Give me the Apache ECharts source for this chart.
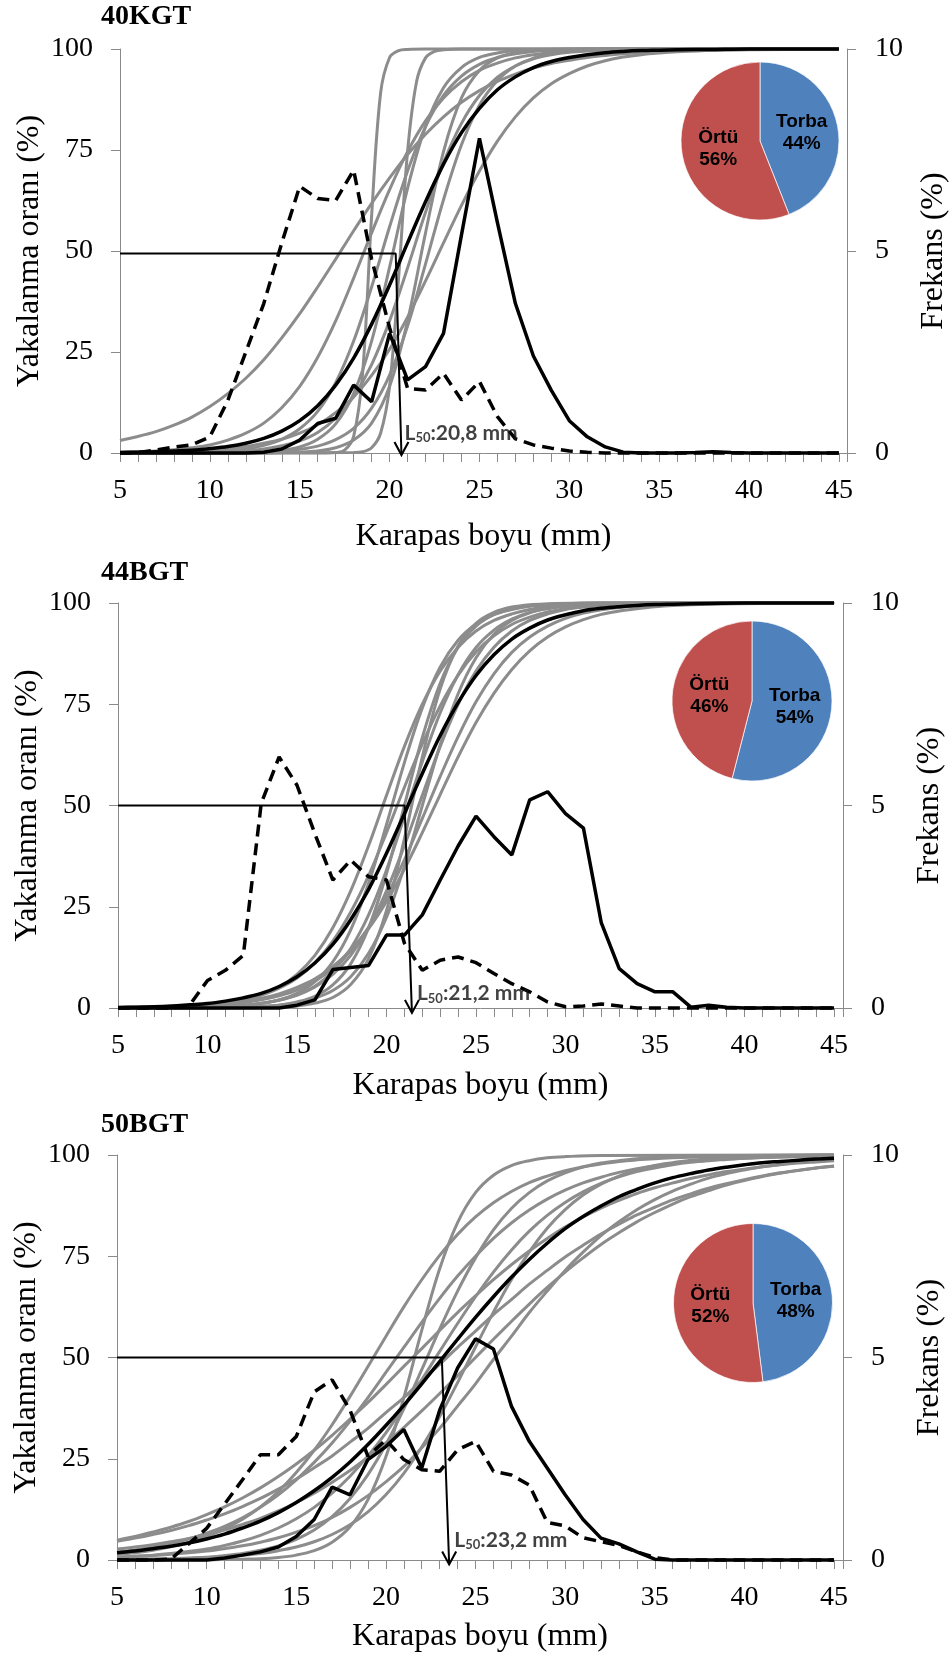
<!DOCTYPE html>
<html lang="tr">
<head>
<meta charset="UTF-8">
<script src="https://cdn.jsdelivr.net/npm/echarts@6/dist/echarts.min.js"></script>
<title>Seçicilik eğrileri</title>
</head>
<body style="margin:0; background:#fff;">
<div id="container" style="width:952px; height:1660px;"></div>
<script>
// ---- data ----
const panelNames = ['40KGT', '44BGT', '50BGT'];
const sizes = [5,6,7,8,9,10,11,12,13,14,15,16,17,18,19,20,21,22,23,24,25,26,27,28,29,30,31,32,33,34,35,36,37,38,39,40,41,42,43,44,45];

// mean selection curve (black) per panel, [carapace length, retention %]
const mean40 = [[5,0.1],[6,0.2],[7,0.3],[8,0.5],[9,0.7],[10,1.1],[11,1.6],[12,2.4],[13,3.6],[14,5.4],[15,8.0],[16,11.7],[17,16.8],[18,23.5],[19,31.9],[20,41.6],[21,52.0],[22,62.2],[23,71.5],[24,79.3],[25,85.3],[26,89.9],[27,93.1],[28,95.4],[29,96.9],[30,97.9],[31,98.6],[32,99.1],[33,99.4],[34,99.6],[35,99.7],[36,99.8],[38,99.9],[40,100],[45,100]];
const mean44 = [[5,0.15],[6,0.2],[7,0.3],[8,0.5],[9,0.8],[10,1.1],[11,1.7],[12,2.5],[13,3.6],[14,5.3],[15,7.7],[16,11.1],[17,15.7],[18,21.8],[19,29.3],[20,38.2],[21,48.0],[22,57.9],[23,67.3],[24,75.4],[25,82.1],[26,87.2],[27,91.1],[28,93.8],[29,95.8],[30,97.1],[31,98.1],[32,98.7],[33,99.1],[34,99.4],[35,99.6],[36,99.7],[38,99.9],[40,100],[45,100]];
const mean50 = [[5,1.8],[6,2.2],[7,2.8],[8,3.4],[9,4.2],[10,5.2],[11,6.4],[12,7.9],[13,9.6],[14,11.7],[15,14.2],[16,17.1],[17,20.4],[18,24.2],[19,28.5],[20,33.2],[21,38.2],[22,43.5],[23,49.0],[24,54.5],[25,59.9],[26,65.0],[27,69.8],[28,74.2],[29,78.2],[30,81.8],[31,84.8],[32,87.4],[33,89.7],[34,91.5],[35,93.1],[36,94.4],[37,95.4],[38,96.3],[39,97.0],[40,97.6],[41,98.1],[42,98.4],[43,98.7],[44,99.0],[45,99.2]];

// individual haul curves (grey)
const gray40 = [
  [[5,3.1],[6,4.1],[7,5.3],[8,6.9],[9,8.9],[10,11.5],[11,14.7],[12,18.5],[13,23.1],[14,28.5],[15,34.5],[16,41.1],[17,48.0],[18,55.0],[19,61.8],[20,68.1],[21,73.9],[22,78.9],[23,83.2],[24,86.8],[25,89.7],[26,92.0],[27,93.8],[28,95.3],[29,96.4],[30,97.2],[31,97.9],[32,98.4],[33,98.8],[34,99.1],[35,99.3],[36,99.5],[38,99.7],[40,99.8],[45,100]],
  [[5,0.2],[6,0.3],[7,0.5],[8,0.8],[9,1.3],[10,2.0],[11,3.2],[12,4.9],[13,7.4],[14,11.2],[15,16.5],[16,23.7],[17,32.7],[18,43.3],[19,54.5],[20,65.2],[21,74.6],[22,82.2],[23,87.9],[24,91.9],[25,94.7],[26,96.5],[27,97.8],[28,98.6],[29,99.1],[30,99.4],[32,99.8],[35,100],[45,100]],
  [[5,0],[16.5,0],[17,0.1],[17.5,0.7],[18,4.1],[18.5,19.8],[19,58.7],[19.5,89.1],[20,97.9],[20.5,99.6],[21,99.9],[22,100],[45,100]],
  [[5,0],[8,0.1],[9,0.2],[10,0.3],[11,0.6],[12,1.0],[13,1.9],[14,3.4],[15,6.0],[16,10.3],[17,17.4],[18,27.7],[19,41.1],[20,56.0],[21,69.8],[22,80.8],[23,88.5],[24,93.3],[25,96.2],[26,97.9],[27,98.8],[28,99.4],[29,99.6],[30,99.8],[32,100],[45,100]],
  [[5,0],[10,0],[11,0.1],[12,0.1],[13,0.3],[14,0.7],[15,1.5],[16,3.4],[17,7.2],[18,14.7],[19,27.7],[20,46.0],[21,65.5],[22,80.8],[23,90.4],[24,95.4],[25,97.9],[26,99.0],[27,99.6],[28,99.8],[30,100],[45,100]],
  [[5,0],[18,0.1],[18.5,0.3],[19,1.3],[19.5,4.9],[20,16.5],[20.5,43.3],[21,74.6],[21.5,91.9],[22,97.8],[22.5,99.4],[23,99.8],[24,100],[45,100]],
  [[5,0],[9,0.1],[10,0.2],[11,0.3],[12,0.6],[13,1.0],[14,1.8],[15,3.0],[16,5.1],[17,8.6],[18,14.0],[19,21.9],[20,32.7],[21,45.8],[22,59.6],[23,71.9],[24,81.6],[25,88.5],[26,93.0],[27,95.8],[28,97.6],[29,98.6],[30,99.2],[31,99.5],[32,99.7],[34,99.9],[45,100]],
  [[5,0],[13,0],[14,0.1],[15,0.2],[16,0.5],[17,1.3],[18,3.2],[19,7.4],[20,16.5],[21,32.7],[22,54.5],[23,74.6],[24,87.9],[25,94.7],[26,97.8],[27,99.1],[28,99.6],[29,99.8],[31,100],[45,100]],
  [[5,0],[11,0.1],[12,0.1],[13,0.3],[14,0.5],[15,0.9],[16,1.7],[17,3.3],[18,6.1],[19,11.1],[20,19.3],[21,31.4],[22,46.8],[23,62.7],[24,76.3],[25,86.1],[26,92.2],[27,95.8],[28,97.7],[29,98.8],[30,99.4],[31,99.7],[33,99.9],[45,100]],
  [[5,0.1],[6,0.2],[7,0.25],[8,0.4],[9,0.5],[10,0.8],[11,1.1],[12,1.6],[13,2.4],[14,3.4],[15,4.9],[16,7.0],[17,10.0],[18,13.9],[19,19.2],[20,25.7],[21,33.6],[22,42.6],[23,52.0],[24,61.3],[25,69.8],[26,77.2],[27,83.2],[28,87.9],[29,91.4],[30,93.9],[31,95.8],[32,97.1],[33,98.0],[34,98.6],[35,99.0],[36,99.3],[38,99.7],[40,99.9],[45,100]]
];
const gray44 = [
  [[5,0.1],[8,0.3],[9,0.4],[10,0.7],[11,1.2],[12,2.0],[13,3.2],[14,5.2],[15,8.3],[16,13.0],[17,19.8],[18,28.9],[19,40.1],[20,52.5],[21,64.6],[22,75.0],[23,83.2],[24,89.1],[25,93.1],[26,95.7],[27,97.3],[28,98.4],[29,99.0],[30,99.4],[32,99.8],[35,100],[45,100]],
  [[5,0],[8,0.05],[9,0.1],[10,0.2],[11,0.3],[12,0.6],[13,1.1],[14,2.0],[15,3.6],[16,6.5],[17,11.4],[18,19.3],[19,30.8],[20,45.3],[21,60.6],[22,74.1],[23,84.2],[24,90.8],[25,94.8],[26,97.2],[27,98.4],[28,99.2],[29,99.5],[30,99.8],[32,100],[45,100]],
  [[5,0.1],[7,0.2],[8,0.3],[9,0.5],[10,0.8],[11,1.3],[12,2.0],[13,3.2],[14,4.9],[15,7.4],[16,11.2],[17,16.5],[18,23.7],[19,32.7],[20,43.3],[21,54.5],[22,65.2],[23,74.6],[24,82.2],[25,87.9],[26,91.9],[27,94.7],[28,96.5],[29,97.8],[30,98.6],[31,99.1],[32,99.4],[34,99.8],[36,100],[45,100]],
  [[5,0],[10,0.05],[11,0.1],[12,0.2],[13,0.4],[14,0.7],[15,1.5],[16,2.9],[17,5.7],[18,10.9],[19,19.8],[20,33.2],[21,50.0],[22,66.8],[23,80.2],[24,89.1],[25,94.3],[26,97.1],[27,98.5],[28,99.3],[29,99.6],[30,99.8],[32,100],[45,100]],
  [[5,0],[12,0.05],[13,0.1],[14,0.2],[15,0.5],[16,1.2],[17,2.6],[18,5.8],[19,12.2],[20,24.1],[21,41.8],[22,62.0],[23,78.8],[24,89.4],[25,95.0],[26,97.7],[27,99.0],[28,99.6],[29,99.8],[31,100],[45,100]],
  [[5,0],[8,0.1],[9,0.1],[10,0.2],[11,0.4],[12,0.6],[13,1.1],[14,1.9],[15,3.2],[16,5.4],[17,9.0],[18,14.7],[19,23.0],[20,34.1],[21,47.3],[22,60.8],[23,72.9],[24,82.3],[25,89.0],[26,93.3],[27,96.0],[28,97.7],[29,98.6],[30,99.2],[31,99.5],[33,99.8],[45,100]],
  [[5,0],[8,0.1],[9,0.2],[10,0.3],[11,0.4],[12,0.7],[13,1.2],[14,2.0],[15,3.2],[16,5.2],[17,8.3],[18,13.0],[19,19.8],[20,28.9],[21,40.1],[22,52.5],[23,64.6],[24,75.0],[25,83.2],[26,89.1],[27,93.1],[28,95.7],[29,97.3],[30,98.4],[31,99.0],[32,99.4],[34,99.8],[37,100],[45,100]],
  [[5,0.1],[7,0.2],[8,0.2],[9,0.4],[10,0.6],[11,0.9],[12,1.3],[13,2.0],[14,3.0],[15,4.4],[16,6.6],[17,9.7],[18,14.1],[19,19.9],[20,27.5],[21,36.6],[22,46.8],[23,57.2],[24,67.0],[25,75.6],[26,82.5],[27,87.8],[28,91.6],[29,94.3],[30,96.2],[31,97.5],[32,98.3],[33,98.9],[34,99.3],[35,99.5],[37,99.8],[40,100],[45,100]],
  [[5,0.1],[6,0.2],[7,0.3],[8,0.4],[9,0.5],[10,0.8],[11,1.2],[12,1.7],[13,2.4],[14,3.5],[15,5.1],[16,7.2],[17,10.2],[18,14.3],[19,19.6],[20,26.3],[21,34.3],[22,43.3],[23,52.7],[24,62.0],[25,70.5],[26,77.7],[27,83.6],[28,88.2],[29,91.6],[30,94.1],[31,95.9],[32,97.2],[33,98.0],[34,98.6],[35,99.1],[36,99.4],[38,99.7],[41,99.9],[45,100]],
  [[5,0],[10,0.1],[11,0.1],[12,0.2],[13,0.4],[14,0.7],[15,1.3],[16,2.4],[17,4.3],[18,7.7],[19,13.5],[20,22.4],[21,35.0],[22,50.0],[23,65.0],[24,77.6],[25,86.5],[26,92.3],[27,95.7],[28,97.6],[29,98.7],[30,99.3],[31,99.6],[33,99.9],[45,100]]
];
const gray50 = [
  [[5,1.4],[6,1.8],[7,2.4],[8,3.3],[9,4.4],[10,5.8],[11,7.7],[12,10.1],[13,13.1],[14,16.9],[15,21.6],[16,27.1],[17,33.4],[18,40.4],[19,47.8],[20,55.2],[21,62.5],[22,69.2],[23,75.2],[24,80.4],[25,84.7],[26,88.2],[27,91.0],[28,93.2],[29,94.8],[30,96.1],[31,97.1],[32,97.8],[33,98.4],[34,98.8],[35,99.1],[36,99.3],[38,99.6],[40,99.8],[45,100]],
  [[5,2.0],[6,2.5],[7,3.2],[8,4.1],[9,5.2],[10,6.6],[11,8.3],[12,10.4],[13,13.0],[14,16.1],[15,19.8],[16,24.1],[17,28.9],[18,34.3],[19,40.1],[20,46.3],[21,52.5],[22,58.7],[23,64.6],[24,70.1],[25,75.0],[26,79.4],[27,83.2],[28,86.4],[29,89.1],[30,91.3],[31,93.1],[32,94.5],[33,95.7],[34,96.6],[35,97.3],[36,97.9],[37,98.4],[38,98.7],[39,99.0],[40,99.2],[42,99.5],[45,99.8]],
  [[5,0],[10,0.04],[11,0.1],[12,0.2],[13,0.3],[14,0.6],[15,1.2],[16,2.3],[17,4.4],[18,8.2],[19,14.9],[20,25.5],[21,40.1],[22,56.7],[23,71.9],[24,83.3],[25,90.7],[26,95.0],[27,97.4],[28,98.6],[29,99.3],[30,99.6],[32,99.9],[45,100]],
  [[5,4.9],[6,5.8],[7,6.9],[8,8.1],[9,9.5],[10,11.2],[11,13.1],[12,15.3],[13,17.8],[14,20.6],[15,23.7],[16,27.1],[17,30.8],[18,34.8],[19,38.9],[20,43.3],[21,47.8],[22,52.2],[23,56.7],[24,61.1],[25,65.2],[26,69.2],[27,72.9],[28,76.3],[29,79.4],[30,82.2],[31,84.7],[32,86.9],[33,88.8],[34,90.5],[35,91.9],[36,93.1],[37,94.2],[38,95.1],[39,95.9],[40,96.5],[41,97.1],[42,97.6],[43,98.0],[44,98.3],[45,98.6]],
  [[5,0.1],[8,0.3],[9,0.5],[10,0.7],[11,1.1],[12,1.6],[13,2.4],[14,3.5],[15,5.1],[16,7.4],[17,10.7],[18,15.2],[19,21.1],[20,28.5],[21,37.3],[22,47.0],[23,57.0],[24,66.4],[25,74.6],[26,81.5],[27,86.8],[28,90.7],[29,93.6],[30,95.6],[31,97.0],[32,98.0],[33,98.6],[34,99.1],[35,99.4],[37,99.7],[40,99.9],[45,100]],
  [[5,4.6],[6,5.4],[7,6.3],[8,7.3],[9,8.5],[10,9.9],[11,11.4],[12,13.2],[13,15.2],[14,17.5],[15,20.0],[16,22.8],[17,25.7],[18,29.1],[19,32.5],[20,36.4],[21,40.1],[22,44.3],[23,48.3],[24,52.5],[25,56.5],[26,60.6],[27,64.3],[28,68.1],[29,71.5],[30,74.8],[31,77.7],[32,80.5],[33,82.9],[34,85.2],[35,87.1],[36,88.9],[37,90.4],[38,91.8],[39,92.9],[40,93.9],[41,94.8],[42,95.6],[43,96.2],[44,96.8],[45,97.2]],
  [[5,0.1],[8,0.3],[9,0.4],[10,0.6],[11,0.8],[12,1.2],[13,1.6],[14,2.3],[15,3.2],[16,4.5],[17,6.3],[18,8.7],[19,11.9],[20,16.1],[21,21.4],[22,27.9],[23,35.4],[24,43.8],[25,52.6],[26,61.2],[27,69.2],[28,76.1],[29,81.9],[30,86.5],[31,90.1],[32,92.8],[33,94.8],[34,96.3],[35,97.4],[36,98.1],[37,98.7],[38,99.1],[40,99.5],[42,99.8],[45,100]],
  [[5,2.7],[6,3.2],[7,3.8],[8,4.5],[9,5.3],[10,6.3],[11,7.4],[12,8.8],[13,10.3],[14,12.1],[15,14.2],[16,16.5],[17,19.2],[18,22.1],[19,25.4],[20,28.9],[21,32.7],[22,36.8],[23,41.1],[24,45.5],[25,50.0],[26,54.5],[27,58.9],[28,63.2],[29,67.3],[30,71.1],[31,74.6],[32,77.9],[33,80.8],[34,83.5],[35,85.8],[36,87.9],[37,89.7],[38,91.2],[39,92.6],[40,93.7],[41,94.7],[42,95.5],[43,96.2],[44,96.8],[45,97.3]],
  [[5,0.7],[6,0.9],[7,1.1],[8,1.4],[9,1.8],[10,2.2],[11,2.8],[12,3.5],[13,4.4],[14,5.5],[15,6.9],[16,8.5],[17,10.5],[18,13.0],[19,15.9],[20,19.3],[21,23.1],[22,27.7],[23,32.5],[24,38.0],[25,43.5],[26,49.5],[27,55.2],[28,61.1],[29,66.4],[30,71.5],[31,76.0],[32,80.1],[33,83.5],[34,86.5],[35,89.0],[36,91.1],[37,92.8],[38,94.3],[39,95.4],[40,96.3],[41,97.1],[42,97.7],[43,98.2],[44,98.5],[45,98.8]],
  [[5,0.7],[6,0.9],[7,1.2],[8,1.6],[9,2.1],[10,2.7],[11,3.6],[12,4.7],[13,6.1],[14,7.9],[15,10.2],[16,13.0],[17,16.5],[18,20.7],[19,25.7],[20,31.4],[21,37.8],[22,44.5],[23,51.5],[24,58.4],[25,65.0],[26,71.1],[27,76.5],[28,81.2],[29,85.1],[30,88.3],[31,90.9],[32,93.0],[33,94.6],[34,95.9],[35,96.8],[36,97.6],[37,98.2],[38,98.6],[39,98.9],[40,99.2],[42,99.5],[45,99.8]]
];

// length frequencies (%), one value per size class 5..45 mm
const torba40 = [0,0,0,0,0,0,0,0,0.02,0.1,0.32,0.73,0.86,1.68,1.27,2.96,1.81,2.14,2.96,5.4,7.79,5.7,3.7,2.4,1.55,0.8,0.4,0.15,0.02,0,0,0,0.01,0.03,0.01,0,0,0,0,0,0];
const ortu40  = [0,0.01,0.07,0.15,0.2,0.4,1.3,2.5,3.7,5.2,6.6,6.3,6.25,7.0,4.8,3.1,1.6,1.56,1.97,1.31,1.77,0.9,0.35,0.2,0.12,0.05,0.02,0,0,0,0,0,0,0,0,0,0,0,0,0,0];
const torba44 = [0,0,0,0,0,0,0,0,0,0,0.07,0.2,0.95,1.0,1.05,1.8,1.8,2.3,3.16,4.0,4.74,4.23,3.78,5.14,5.34,4.8,4.44,2.1,0.97,0.6,0.4,0.4,0.02,0.07,0.02,0,0,0,0,0,0];
const ortu44  = [0,0,0,0,0.07,0.68,0.93,1.3,5.05,6.2,5.5,4.3,3.16,3.65,3.24,3.16,1.6,0.93,1.18,1.26,1.12,0.85,0.6,0.4,0.15,0.03,0.05,0.1,0.05,0,0,0,0,0,0,0,0,0,0,0,0];
const torba50 = [0,0,0,0,0,0,0.05,0.12,0.2,0.32,0.58,1.0,1.8,1.61,2.48,2.8,3.22,2.27,3.7,4.74,5.46,5.21,3.8,2.93,2.27,1.61,1.0,0.54,0.4,0.2,0.02,0,0,0,0,0,0,0,0,0,0];
const ortu50  = [0,0,0,0.02,0.4,0.78,1.38,1.98,2.6,2.6,3.05,4.15,4.45,3.7,2.56,2.97,2.48,2.23,2.19,2.72,2.93,2.19,2.1,1.85,0.93,0.84,0.55,0.45,0.36,0.2,0.06,0,0,0,0,0,0,0,0,0,0];

// L50 guide (left axis units) and its label
const l50Text = ['20,8', '21,2', '23,2'];
const l50Path = [
  [[5,49.4],[20.34,49.4],[20.66,-0.5]],
  [[5,50],[21.01,50],[21.42,-1.2]],
  [[5,50],[23.12,50],[23.53,-1.1]]
];
const l50LabelAt = [[20.8,4.9],[21.67,3.6],[23.79,5.0]];

// codend / cover share of the catch
const pieTorba = [44, 54, 48];
const pieOrtu  = [56, 46, 52];

const meanCurves = [mean40, mean44, mean50];
const grayCurves = [gray40, gray44, gray50];
const torbaFreq = [torba40, torba44, torba50];
const ortuFreq = [ortu40, ortu44, ortu50];

// ---- layout ----
const SERIF = 'Liberation Serif';
const SANS = 'Liberation Sans';
const LBL = 'Lato';
const GRAY = '#8c8c8c';
const AXIS = '#8a8a8a';
const ARROW = 'path://M0,0L7,12L14,0';

const panels = [
  {left: 120, top: 49,   width: 727, height: 404, xMax: 45.45, xGap: 68, titleY: 17,   pie: [760, 141],  r: 79},
  {left: 118, top: 603,  width: 725, height: 405, xMax: 45.5,  xGap: 62, titleY: 573,  pie: [752, 701],  r: 80},
  {left: 117, top: 1155, width: 726, height: 405, xMax: 45.5,  xGap: 61, titleY: 1125, pie: [753, 1303], r: 79.5}
];

let dom = document.getElementById('container');
let myChart = echarts.init(dom, null, {renderer: 'canvas'});

function serif(size) {
  return {color: '#000', fontFamily: SERIF, fontSize: size, fontWeight: 'normal'};
}

let option = {
  animation: false,
  backgroundColor: '#fff',
  textStyle: {fontFamily: SERIF},
  grid: [], xAxis: [], yAxis: [], series: [], graphic: []
};

panels.forEach(function (p, i) {
  option.grid.push({left: p.left, top: p.top, width: p.width, height: p.height,
    containLabel: false, outerBoundsMode: 'none'});

  option.xAxis.push({
    type: 'value', gridIndex: i, min: 5, max: p.xMax, interval: 1,
    axisLine: {show: true, lineStyle: {color: AXIS, width: 1}},
    axisTick: {show: true, length: 9, lineStyle: {color: AXIS}},
    splitLine: {show: false},
    axisLabel: Object.assign({margin: 24, hideOverlap: false,
      formatter: function (v) { return v % 5 === 0 ? String(v) : ''; }}, serif(28)),
    name: 'Karapas boyu (mm)', nameLocation: 'middle', nameGap: p.xGap,
    nameMoveOverlap: false, nameTextStyle: serif(32)
  });

  option.yAxis.push({
    type: 'value', gridIndex: i, min: 0, max: 100, interval: 25, position: 'left',
    axisLine: {show: true, lineStyle: {color: AXIS, width: 1}},
    axisTick: {show: true, length: 9, lineStyle: {color: AXIS}},
    splitLine: {show: false},
    axisLabel: Object.assign({margin: 27}, serif(28)),
    name: 'Yakalanma oranı (%)', nameLocation: 'middle', nameGap: 74, nameRotate: 90,
    nameMoveOverlap: false, nameTextStyle: serif(32)
  });
  option.yAxis.push({
    type: 'value', gridIndex: i, min: 0, max: 10, interval: 5, position: 'right',
    axisLine: {show: true, lineStyle: {color: AXIS, width: 1}},
    axisTick: {show: true, length: 9, lineStyle: {color: AXIS}},
    splitLine: {show: false},
    axisLabel: Object.assign({margin: 28}, serif(28)),
    name: 'Frekans (%)', nameLocation: 'middle', nameGap: 71, nameRotate: 90,
    nameMoveOverlap: false, nameTextStyle: serif(32)
  });

  grayCurves[i].forEach(function (c) {
    option.series.push({
      type: 'line', xAxisIndex: i, yAxisIndex: 2 * i, data: c, smooth: 0.35,
      symbol: 'none', clip: false, silent: true, z: 2,
      lineStyle: {color: GRAY, width: 3}
    });
  });
  option.series.push({
    type: 'line', xAxisIndex: i, yAxisIndex: 2 * i, data: meanCurves[i], smooth: 0.35,
    symbol: 'none', clip: false, silent: true, z: 3,
    lineStyle: {color: '#000', width: 3.5}
  });

  option.series.push({
    type: 'line', xAxisIndex: i, yAxisIndex: 2 * i + 1, symbol: 'none', clip: false,
    silent: true, z: 4, lineStyle: {color: '#000', width: 3.5},
    data: sizes.map(function (x, k) { return [x, torbaFreq[i][k]]; })
  });
  option.series.push({
    type: 'line', xAxisIndex: i, yAxisIndex: 2 * i + 1, symbol: 'none', clip: false,
    silent: true, z: 4, lineStyle: {color: '#000', width: 3.5, type: [12, 7]},
    data: sizes.map(function (x, k) { return [x, ortuFreq[i][k]]; })
  });

  // L50 guide with an open arrow head at the axis
  option.series.push({
    type: 'line', xAxisIndex: i, yAxisIndex: 2 * i, symbol: 'none', showSymbol: true,
    clip: false, silent: true, z: 5, lineStyle: {color: '#000', width: 2},
    data: l50Path[i].map(function (pt, k, arr) {
      if (k < arr.length - 1) return {value: pt, symbol: 'none'};
      return {value: pt, symbol: ARROW, symbolSize: [14, 13], symbolOffset: [0, -6.5],
        itemStyle: {color: 'rgba(0,0,0,0)', borderColor: '#000', borderWidth: 2}};
    })
  });
  option.series.push({
    type: 'scatter', xAxisIndex: i, yAxisIndex: 2 * i, symbolSize: 1, silent: true, z: 6,
    itemStyle: {color: 'rgba(0,0,0,0)'},
    data: [l50LabelAt[i]],
    label: {
      show: true, position: 'right', distance: 0,
      formatter: '{a|L}{b|50}{a|:' + l50Text[i] + ' mm}',
      rich: {
        a: {fontFamily: LBL, fontSize: 21, fontWeight: 'bold', color: '#111'},
        b: {fontFamily: LBL, fontSize: 13, fontWeight: 'bold', color: '#111', padding: [10, 0, 0, 0]}
      }
    }
  });

  option.series.push({
    type: 'pie', center: p.pie, radius: p.r, startAngle: 90, clockwise: true,
    silent: true, z: 7,
    itemStyle: {borderColor: 'rgba(255,255,255,0.7)', borderWidth: 1},
    label: {position: 'inside', formatter: '{b}\n{c}%', color: '#000',
      fontFamily: SANS, fontWeight: 'bold', fontSize: 19, lineHeight: 22},
    labelLine: {show: false},
    data: [
      {name: 'Torba', value: pieTorba[i], itemStyle: {color: '#4F81BD'}},
      {name: 'Örtü', value: pieOrtu[i], itemStyle: {color: '#C0504D'}}
    ]
  });

  option.graphic.push({
    type: 'text', x: 101, y: p.titleY, silent: true,
    style: {text: panelNames[i], font: 'bold 28px "Liberation Serif"', fill: '#000',
      align: 'left', verticalAlign: 'middle', textAlign: 'left', textVerticalAlign: 'middle'}
  });
});

myChart.setOption(option);
</script>
</body>
</html>
